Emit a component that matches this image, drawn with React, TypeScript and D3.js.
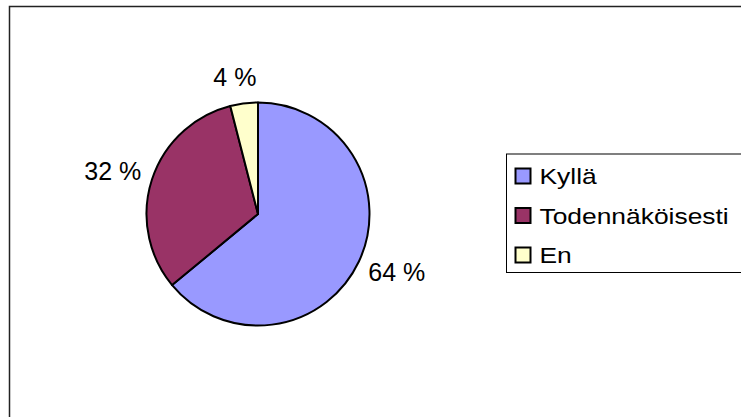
import { useEffect, useRef } from "react";
import * as d3 from "d3";

const categories = ["Kyllä", "Todennäköisesti", "En"];
const values = [64, 32, 4];
const labels = ["64 %", "32 %", "4 %"];
const colors = ["#9999FF", "#993366", "#FFFFCC"];

export default function App() {
  const svgRef = useRef<SVGSVGElement | null>(null);

  useEffect(() => {
    const svg = d3.select(svgRef.current);
    const width = 741;
    const height = 417;
    const font = "Arial, 'Liberation Sans', sans-serif";
    svg.selectAll("*").remove();
    svg.attr("width", width).attr("height", height);

    // chart area frame (right and bottom edges fall outside the picture)
    svg.append("rect")
      .attr("x", 9.5).attr("y", 6.5)
      .attr("width", 800).attr("height", 500)
      .attr("fill", "#fff")
      .attr("stroke", "#222")
      .attr("stroke-width", 1.5);

    const cx = 258;
    const cy = 214;
    const r = 111.5;

    const pie = d3.pie<number>().sort(null).value((d) => d);
    const arcs = pie(values);
    const arc = d3.arc<d3.PieArcDatum<number>>().innerRadius(0).outerRadius(r);

    const g = svg.append("g").attr("transform", `translate(${cx},${cy})`);
    g.selectAll("path")
      .data(arcs)
      .enter()
      .append("path")
      .attr("d", arc)
      .attr("fill", (_, i) => colors[i])
      .attr("stroke", "#000")
      .attr("stroke-width", 2)
      .attr("stroke-linejoin", "round");

    // data labels outside the slices
    const gap = 12;
    arcs.forEach((a, i) => {
      const mid = (a.startAngle + a.endAngle) / 2;
      const dx = Math.sin(mid);
      const dy = -Math.cos(mid);
      const t = g.append("text")
        .attr("font-family", font)
        .attr("font-size", 25)
        .attr("fill", "#000")
        .attr("text-anchor", "middle")
        .text(labels[i]);
      const bb = (t.node() as SVGTextElement).getBBox();
      const x = dx * (r + gap) + Math.sign(dx) * Math.sqrt(Math.abs(dx)) * bb.width / 2;
      const y = dy * (r + gap) + dy * bb.height / 2;
      t.attr("x", x).attr("y", y).attr("dy", "0.35em");
    });

    // legend
    const lx = 506.5;
    const ly = 154;
    const legend = svg.append("g");
    legend.append("rect")
      .attr("x", lx).attr("y", ly)
      .attr("width", 300).attr("height", 118.5)
      .attr("fill", "#fff")
      .attr("stroke", "#000")
      .attr("stroke-width", 1);

    const rowY = d3.scalePoint<string>()
      .domain(categories)
      .range([ly + 22, ly + 101]);

    categories.forEach((c, i) => {
      const y = rowY(c)!;
      legend.append("rect")
        .attr("x", lx + 9).attr("y", y - 7.5)
        .attr("width", 15).attr("height", 15)
        .attr("fill", colors[i])
        .attr("stroke", "#000")
        .attr("stroke-width", 2);
      legend.append("text")
        .attr("transform", `translate(${lx + 33},${y + 8}) scale(1.2,1)`)
        .attr("font-family", font)
        .attr("font-size", 22)
        .attr("fill", "#000")
        .text(c);
    });
  }, []);

  return (
    <svg
      ref={svgRef}
      style={{ position: "absolute", left: 0, top: 0, background: "#fff" }}
    />
  );
}
